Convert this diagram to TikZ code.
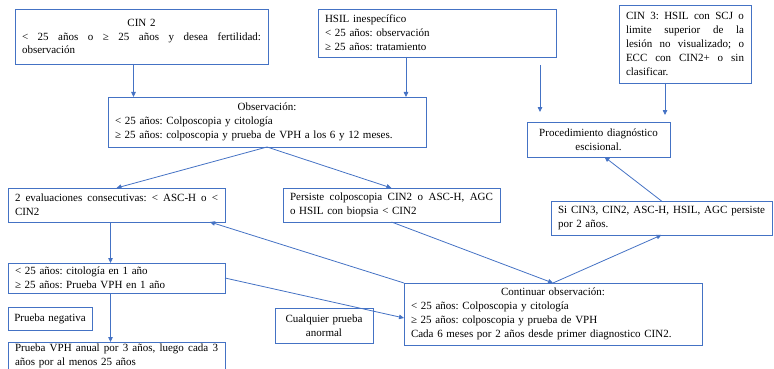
\documentclass[tikz,border=0pt]{standalone}
\usepackage{fontspec}
\setmainfont{Liberation Serif}
\usetikzlibrary{arrows.meta}
\definecolor{flowblue}{RGB}{68,114,196}
\tikzset{
  box/.style={draw=flowblue, line width=0.8pt, anchor=north west, inner sep=0pt,
    outer sep=0pt, align=left, font=\fontsize{11}{13.8}\selectfont\frenchspacing},
  link/.style={draw=flowblue, line width=0.8pt, -{Triangle[length=5pt,width=4.5pt]}},
}
% a line whose word spaces stretch to the full text width
\newcommand\fullline[1]{\leavevmode\hbox to \hsize{\spaceskip=0.25em plus 1fil\relax #1}}
% a line centred in the text width
\newcommand\midline[1]{\leavevmode\hbox to \hsize{\hss#1\hss}}
\begin{document}
\begin{tikzpicture}[x=1pt,y=-1pt]
\useasboundingbox (0,0) rectangle (774,369);
% top row
\node[box, minimum width=253pt, minimum height=55pt, text width=239pt] (cin2) at (15,9)
  {\midline{CIN 2}\\\fullline{< 25 años o ≥ 25 años y desea fertilidad:}\\observación};
\node[box, minimum width=238pt, minimum height=48pt, text width=224pt] (hsil) at (318,9)
  {HSIL inespecífico\\< 25 años: observación\\≥ 25 años: tratamiento};
\node[box, minimum width=132pt, minimum height=78pt, text width=118pt] (cin3) at (619,5)
  {\fullline{CIN 3: HSIL con SCJ o}\\\fullline{limite superior de la}\\\fullline{lesión no visualizado; o}\\\fullline{ECC con CIN2+ o sin}\\clasificar.};
% second row
\node[box, minimum width=318pt, minimum height=50pt, text width=304pt] (obs) at (108,97)
  {\midline{Observación:}\\< 25 años: Colposcopia y citología\\≥ 25 años: colposcopia y prueba de VPH a los 6 y 12 meses.};
\node[box, align=center, minimum width=143pt, minimum height=35pt, text width=129pt] (proc) at (527,122)
  {Procedimiento diagnóstico\\escisional.};
% third row
\node[box, minimum width=217pt, minimum height=34pt, text width=203pt] (eval) at (8,188)
  {\fullline{2 evaluaciones consecutivas: < ASC-H o <}\\CIN2};
\node[box, minimum width=217pt, minimum height=34pt, text width=203pt] (pers) at (283,188)
  {\fullline{Persiste colposcopia CIN2 o ASC-H, AGC}\\o HSIL con biopsia < CIN2};
\node[box, minimum width=221pt, minimum height=34pt, text width=207pt] (si) at (551,201)
  {\fullline{Si CIN3, CIN2, ASC-H, HSIL, AGC persiste}\\por 2 años.};
% lower rows
\node[box, minimum width=217pt, minimum height=30pt, text width=203pt] (cito) at (8,263)
  {< 25 años: citología en 1 año\\≥ 25 años: Prueba VPH en 1 año};
\node[box, minimum width=298pt, minimum height=62pt, text width=284pt] (cont) at (404,283)
  {\midline{Continuar observación:}\\< 25 años: Colposcopia y citología\\≥ 25 años: colposcopia y prueba de VPH\\Cada 6 meses por 2 años desde primer diagnostico CIN2.};
\node[box, align=center, minimum width=84pt, minimum height=23pt, text width=78pt] (neg) at (8,307)
  {Prueba negativa};
\node[box, align=center, minimum width=98pt, minimum height=35pt, text width=88pt] (cual) at (275,308)
  {Cualquier prueba\\anormal};
\node[box, minimum width=217pt, minimum height=28pt, text width=203pt] (vph) at (8,342)
  {\fullline{Prueba VPH anual por 3 años, luego cada 3}\\años por al menos 25 años};
% connectors
\coordinate (freetop) at (540,65);
\coordinate (freeend) at (540,112);
\draw[link] ([xshift=-8pt]cin2.south) -- ([xshift=-8pt]cin2.south |- obs.north);
\draw[link] ([xshift=-31pt]hsil.south) -- ([xshift=-31pt]hsil.south |- obs.north);
\draw[link] (freetop) -- (freeend);
\draw[link, shorten >=7pt] ([xshift=-20pt]cin3.south) -- ([xshift=-20pt]cin3.south |- proc.north);
\draw[link] (obs.south) -- (eval.north);
\draw[link] (obs.south) -- (pers.north);
\draw[link] ([xshift=-6pt]eval.south) -- ([xshift=-6pt]eval.south |- cito.north);
\draw[link] ([xshift=-6pt]cito.south) -- ([xshift=-6pt]cito.south |- vph.north);
\draw[link] (cito.east) -- ([yshift=-4pt]cont.west);
\draw[link] (cont.north west) -- ([xshift=-15pt]eval.south east);
\draw[link] (pers.south) -- (cont.north);
\draw[link] (cont.north) -- (si.south);
\draw[link] (si.north) -- ([xshift=6pt]proc.south);
\end{tikzpicture}
\end{document}
